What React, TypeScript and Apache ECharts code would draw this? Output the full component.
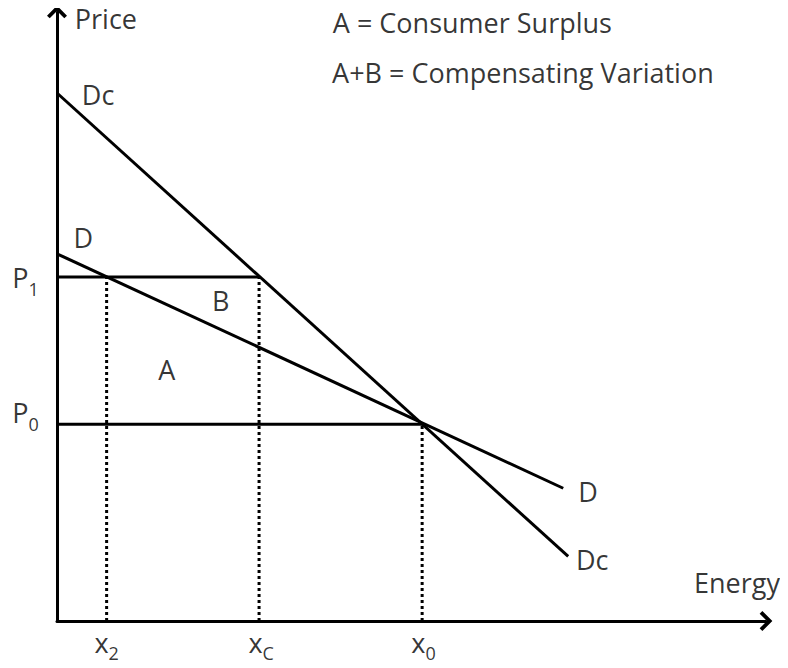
import React, { useEffect, useRef } from "react";
import * as echarts from "echarts";

// Curve endpoints [quantity, price]
const demandD: number[][] = [[0, 60.3], [71.4, 21.8]];
const demandDc: number[][] = [[0, 86.7], [72.1, 10.6]];

// Key quantities and prices
const xTwo = 7;
const xC = 28.5;
const xZero = 51.5;
const priceP1 = 56.5;
const priceP0 = 32.3;

// Annotation texts and their data positions
const annText: string[] = [
  "Price", "A = Consumer Surplus", "A+B = Compensating Variation", "Dc", "D",
  "B", "A", "D", "Dc", "Energy", "P{s|1}", "P{s|0}", "x{s|2}", "x{s|C}", "x{s|0}",
];
const annX: number[] = [6.9, 38.9, 38.8, 5.8, 3.7, 23.1, 15.5, 74.9, 75.5, 95.9, -6.3, -6.3, 7.0, 28.8, 51.7];
const annY: number[] = [99.0, 98.3, 90.1, 86.4, 63.0, 52.6, 41.3, 21.3, 10.1, 6.3, 56.4, 34.2, -3.5, -3.5, -3.5];
const annAlign: string[] = [
  "center", "left", "left", "center", "center", "center", "center", "center", "center", "center",
  "left", "left", "center", "center", "center",
];

const FONT = "Open Sans";
const ARROW = "path://M0,0 L11,11 L8,14 L0,6 L-8,14 L-11,11 Z";

export default function App() {
  const ref = useRef<HTMLDivElement>(null);
  useEffect(() => {
    if (!ref.current) return;
    const chart = echarts.init(ref.current, null, { renderer: "svg" });
    const solid = { color: "#000", width: 3 };
    const dotted = { color: "#000", width: 3, type: [3, 3] as number[] };
    const lineSeries = (data: number[][], style: any) => ({
      type: "line",
      data,
      showSymbol: false,
      symbol: "none",
      silent: true,
      clip: false,
      lineStyle: style,
    });
    const axisBase = {
      type: "value",
      min: 0,
      max: 100,
      axisTick: { show: false },
      axisLabel: { show: false },
      splitLine: { show: false },
    };
    chart.setOption({
      animation: false,
      grid: { left: 57, right: 22, top: 12, bottom: 47 },
      xAxis: {
        ...axisBase,
        axisLine: {
          show: true,
          lineStyle: { color: "#000", width: 3 },
          symbol: ["none", ARROW],
          symbolSize: [20, 16],
        },
      },
      yAxis: {
        ...axisBase,
        axisLine: {
          show: true,
          onZero: false,
          lineStyle: { color: "#000", width: 3 },
          symbol: ["none", ARROW],
          symbolSize: [20, 16],
        },
      },
      series: [
        lineSeries(demandDc, solid),
        lineSeries(demandD, solid),
        lineSeries([[0, priceP1], [xC, priceP1]], solid),
        lineSeries([[0, priceP0], [xZero, priceP0]], solid),
        lineSeries([[xTwo, 0], [xTwo, priceP1]], dotted),
        lineSeries([[xC, 0], [xC, priceP1]], dotted),
        lineSeries([[xZero, 0], [xZero, priceP0]], dotted),
        {
          type: "scatter",
          clip: false,
          silent: true,
          symbolSize: 0,
          itemStyle: { color: "rgba(0,0,0,0)" },
          data: annText.map((t, i) => ({
            value: [annX[i], annY[i]],
            label: {
              show: true,
              position: "inside",
              formatter: t,
              align: annAlign[i],
              verticalAlign: "middle",
              color: "#000",
              fontFamily: FONT,
              fontSize: 27,
              rich: {
                s: { fontSize: 18, fontFamily: FONT, color: "#000", padding: [22, 0, 0, 0] },
              },
            },
          })),
        },
      ],
    });
    return () => chart.dispose();
  }, []);
  return <div ref={ref} style={{ width: 788, height: 668, margin: -8, background: "#fff" }} />;
}
